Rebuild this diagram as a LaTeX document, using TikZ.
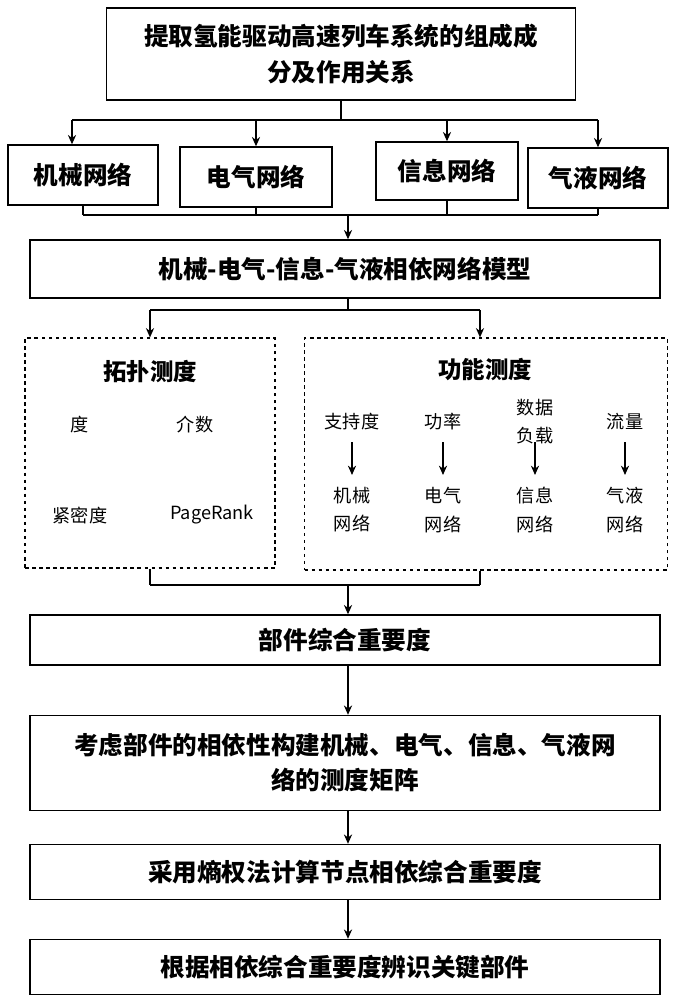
\documentclass[tikz,border=0pt]{standalone}
\usepackage{fontspec}
\setmainfont{Noto Sans CJK SC}
\usetikzlibrary{positioning,arrows.meta}
\tikzset{
  box/.style={draw,line width=1.2pt,align=center,font=\fontsize{21}{30}\selectfont\bfseries,inner sep=2pt},
  dbox/.style={draw,line width=1pt,dashed},
  item/.style={font=\fontsize{15.5}{24}\selectfont,align=center},
  arr/.style={-{Stealth[length=8pt,width=7pt]},line width=1.2pt},
  ln/.style={line width=1.2pt},
}
\begin{document}
\begin{tikzpicture}[x=0.03cm,y=-0.03cm]
  \useasboundingbox (0,0) rectangle (678,1000);
  % top
  \node[box,minimum width=469*0.03cm,minimum height=92*0.03cm] (top) at (341,54) {提取氢能驱动高速列车系统的组成成\\分及作用关系};
  \node[box,minimum width=150*0.03cm,minimum height=60*0.03cm] (mech) at (83,175) {机械网络};
  \node[box,minimum width=152*0.03cm,minimum height=60*0.03cm] (elec) at (256,177) {电气网络};
  \node[box,minimum width=142*0.03cm,minimum height=58*0.03cm] (info) at (447,171) {信息网络};
  \node[box,minimum width=140*0.03cm,minimum height=60*0.03cm] (gas) at (598,178) {气液网络};
  \coordinate (split1) at (341,120);
  \draw[ln] (top) -- (split1);
  \draw[ln] (72,120) -- (598,120);
  \foreach \n/\x in {mech/72,elec/256,info/447,gas/598}
    \draw[arr] (\x,120) -- (\n.north -| \x,0);
  % merge
  \node[box,minimum width=630*0.03cm,minimum height=58*0.03cm] (model) at (345,269) {机械-电气-信息-气液相依网络模型};
  \foreach \n/\x in {mech/83,elec/256,info/447,gas/598}
    \draw[ln] (\n.south -| \x,0) -- (\x,215);
  \draw[ln] (83,215) -- (598,215);
  \draw[arr] (348,215) -- (model.north -| 348,0);
  % measures
  \node[dbox,minimum width=250*0.03cm,minimum height=230*0.03cm] (topo) at (150,453) {};
  \node[dbox,minimum width=363*0.03cm,minimum height=232*0.03cm] (func) at (486,454) {};
  \draw[ln] (model.south -| 348,0) -- (348,310);
  \draw[ln] (150,310) -- (480,310);
  \draw[arr] (150,310) -- (topo.north -| 150,0);
  \draw[arr] (480,310) -- (func.north -| 480,0);
  \node[font=\fontsize{20}{24}\selectfont\bfseries] (tt) at (150,372) {拓扑测度};
  \node[item] (deg) at (80,425) {度};
  \node[item] (btw) at (195,425) {介数};
  \node[item] (clo) at (80,515) {紧密度};
  \node[item] (pr) at (212,515) {PageRank};
  \node[font=\fontsize{20}{24}\selectfont\bfseries] (ft) at (485,370) {功能测度};
  \foreach \nm/\x/\a/\b in {s/352/支持度/机械\\网络, p/443/功率/电气\\网络, d/535/数据\\负载/信息\\网络, f/625/流量/气液\\网络} {
    \node[item] (\nm top) at (\x,422) {\a};
    \node[item] (\nm bot) at (\x,510) {\b};
    \draw[arr] (\x,442) -- (\x,475);
  }
  % lower chain
  \node[box,minimum width=630*0.03cm,minimum height=50*0.03cm] (comp) at (345,640) {部件综合重要度};
  \draw[ln] (topo.south -| 150,0) -- (150,585);
  \draw[ln] (func.south -| 480,0) -- (480,585);
  \draw[ln] (150,585) -- (480,585);
  \draw[arr] (348,585) -- (comp.north -| 348,0);
  \node[box,minimum width=630*0.03cm,minimum height=95*0.03cm] (mat) at (345,763) {考虑部件的相依性构建机械、电气、信息、气液网\\络的测度矩阵};
  \node[box,minimum width=630*0.03cm,minimum height=55*0.03cm] (ent) at (345,872) {采用熵权法计算节点相依综合重要度};
  \node[box,minimum width=630*0.03cm,minimum height=55*0.03cm] (key) at (345,967) {根据相依综合重要度辨识关键部件};
  \draw[arr] (comp.south -| 348,0) -- (mat.north -| 348,0);
  \draw[arr] (mat.south -| 348,0) -- (ent.north -| 348,0);
  \draw[arr] (ent.south -| 348,0) -- (key.north -| 348,0);
\end{tikzpicture}
\end{document}
